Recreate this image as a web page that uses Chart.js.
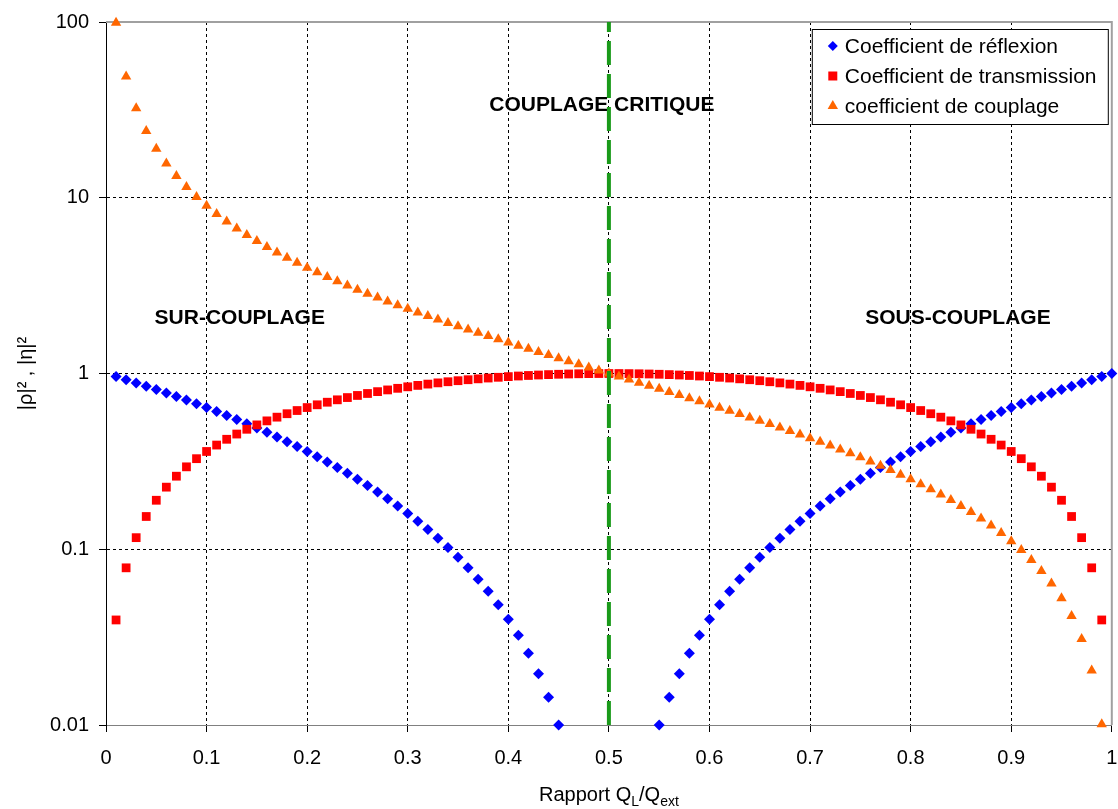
<!DOCTYPE html>
<html>
<head>
<meta charset="utf-8">
<script src="https://cdn.jsdelivr.net/npm/chart.js@4/dist/chart.umd.min.js"></script>
<style>
  html, body { margin: 0; padding: 0; background: #fff; }
</style>
</head>
<body>
<canvas id="chart" width="1118" height="809"></canvas>
<script>
// x : rapport QL/Qext
const xValues = [
  0.01, 0.02, 0.03, 0.04, 0.05, 0.06, 0.07, 0.08, 0.09, 0.10,
  0.11, 0.12, 0.13, 0.14, 0.15, 0.16, 0.17, 0.18, 0.19, 0.20,
  0.21, 0.22, 0.23, 0.24, 0.25, 0.26, 0.27, 0.28, 0.29, 0.30,
  0.31, 0.32, 0.33, 0.34, 0.35, 0.36, 0.37, 0.38, 0.39, 0.40,
  0.41, 0.42, 0.43, 0.44, 0.45, 0.46, 0.47, 0.48, 0.49, 0.50,
  0.51, 0.52, 0.53, 0.54, 0.55, 0.56, 0.57, 0.58, 0.59, 0.60,
  0.61, 0.62, 0.63, 0.64, 0.65, 0.66, 0.67, 0.68, 0.69, 0.70,
  0.71, 0.72, 0.73, 0.74, 0.75, 0.76, 0.77, 0.78, 0.79, 0.80,
  0.81, 0.82, 0.83, 0.84, 0.85, 0.86, 0.87, 0.88, 0.89, 0.90,
  0.91, 0.92, 0.93, 0.94, 0.95, 0.96, 0.97, 0.98, 0.99, 1.00
];

// |rho|^2 (points under 0.01 are not shown)
const reflexion = [
  0.9604, 0.9216, 0.8836, 0.8464, 0.81, 0.7744, 0.7396, 0.7056, 0.6724, 0.64,
  0.6084, 0.5776, 0.5476, 0.5184, 0.49, 0.4624, 0.4356, 0.4096, 0.3844, 0.36,
  0.3364, 0.3136, 0.2916, 0.2704, 0.25, 0.2304, 0.2116, 0.1936, 0.1764, 0.16,
  0.1444, 0.1296, 0.1156, 0.1024, 0.09, 0.0784, 0.0676, 0.0576, 0.0484, 0.04,
  0.0324, 0.0256, 0.0196, 0.0144, 0.01, null, null, null, null, null,
  null, null, null, null, 0.01, 0.0144, 0.0196, 0.0256, 0.0324, 0.04,
  0.0484, 0.0576, 0.0676, 0.0784, 0.09, 0.1024, 0.1156, 0.1296, 0.1444, 0.16,
  0.1764, 0.1936, 0.2116, 0.2304, 0.25, 0.2704, 0.2916, 0.3136, 0.3364, 0.36,
  0.3844, 0.4096, 0.4356, 0.4624, 0.49, 0.5184, 0.5476, 0.5776, 0.6084, 0.64,
  0.6724, 0.7056, 0.7396, 0.7744, 0.81, 0.8464, 0.8836, 0.9216, 0.9604, 1
];

// |eta|^2
const transmission = [
  0.0396, 0.0784, 0.1164, 0.1536, 0.19, 0.2256, 0.2604, 0.2944, 0.3276, 0.36,
  0.3916, 0.4224, 0.4524, 0.4816, 0.51, 0.5376, 0.5644, 0.5904, 0.6156, 0.64,
  0.6636, 0.6864, 0.7084, 0.7296, 0.75, 0.7696, 0.7884, 0.8064, 0.8236, 0.84,
  0.8556, 0.8704, 0.8844, 0.8976, 0.91, 0.9216, 0.9324, 0.9424, 0.9516, 0.96,
  0.9676, 0.9744, 0.9804, 0.9856, 0.99, 0.9936, 0.9964, 0.9984, 0.9996, 1,
  0.9996, 0.9984, 0.9964, 0.9936, 0.99, 0.9856, 0.9804, 0.9744, 0.9676, 0.96,
  0.9516, 0.9424, 0.9324, 0.9216, 0.91, 0.8976, 0.8844, 0.8704, 0.8556, 0.84,
  0.8236, 0.8064, 0.7884, 0.7696, 0.75, 0.7296, 0.7084, 0.6864, 0.6636, 0.64,
  0.6156, 0.5904, 0.5644, 0.5376, 0.51, 0.4816, 0.4524, 0.4224, 0.3916, 0.36,
  0.3276, 0.2944, 0.2604, 0.2256, 0.19, 0.1536, 0.1164, 0.0784, 0.0396, null
];

// coefficient de couplage
const couplage = [
  99, 49, 32.33, 24, 19, 15.67, 13.29, 11.5, 10.11, 9,
  8.091, 7.333, 6.692, 6.143, 5.667, 5.25, 4.882, 4.556, 4.263, 4,
  3.762, 3.545, 3.348, 3.167, 3, 2.846, 2.704, 2.571, 2.448, 2.333,
  2.226, 2.125, 2.03, 1.941, 1.857, 1.778, 1.703, 1.632, 1.564, 1.5,
  1.439, 1.381, 1.326, 1.273, 1.222, 1.174, 1.128, 1.083, 1.041, 1,
  0.9608, 0.9231, 0.8868, 0.8519, 0.8182, 0.7857, 0.7544, 0.7241, 0.6949, 0.6667,
  0.6393, 0.6129, 0.5873, 0.5625, 0.5385, 0.5152, 0.4925, 0.4706, 0.4493, 0.4286,
  0.4085, 0.3889, 0.3699, 0.3514, 0.3333, 0.3158, 0.2987, 0.2821, 0.2658, 0.25,
  0.2346, 0.2195, 0.2048, 0.1905, 0.1765, 0.1628, 0.1494, 0.1364, 0.1236, 0.1111,
  0.0989, 0.087, 0.0753, 0.0638, 0.0526, 0.0417, 0.0309, 0.0204, 0.0101, null
];

// couplage critique (vertical line)
const critX = [0.5, 0.5];
const critY = [0.01, 100];

const xTicks = [0, 0.1, 0.2, 0.3, 0.4, 0.5, 0.6, 0.7, 0.8, 0.9, 1];
const yTicks = [0.01, 0.1, 1, 10, 100];

const seriesLabels = ["Coefficient de réflexion", "Coefficient de transmission", "coefficient de couplage"];

const zoneLabels = [
  { text: "COUPLAGE CRITIQUE", x: 0.493, y: 33.5 },
  { text: "SUR-COUPLAGE", x: 0.133, y: 2.06 },
  { text: "SOUS-COUPLAGE", x: 0.847, y: 2.06 }
];

const FONT = "'Liberation Sans', Arial, sans-serif";

function toPoints(ys) {
  return xValues.map((x, i) => ({ x: x, y: ys[i] }));
}

// zone labels, drawn under the grid
const zonePlugin = {
  id: "zones",
  beforeDraw(chart) {
    const ctx = chart.ctx;
    const xs = chart.scales.x, ys = chart.scales.y;
    ctx.save();
    ctx.font = "bold 21px " + FONT;
    ctx.fillStyle = "#000";
    ctx.textAlign = "center";
    ctx.textBaseline = "middle";
    zoneLabels.forEach(z => {
      ctx.fillText(z.text, xs.getPixelForValue(z.x), ys.getPixelForValue(z.y));
    });
    ctx.restore();
  }
};

// grey frame on top and right of the plot
const framePlugin = {
  id: "frame",
  beforeDatasetsDraw(chart) {
    const { ctx, chartArea: a } = chart;
    ctx.save();
    ctx.strokeStyle = "#a0a0a0";
    ctx.lineWidth = 2;
    ctx.beginPath();
    ctx.moveTo(a.left, a.top);
    ctx.lineTo(a.right, a.top);
    ctx.lineTo(a.right, a.bottom);
    ctx.stroke();
    ctx.restore();
  }
};

// boxed legend inside the plot, top right
const legendPlugin = {
  id: "boxLegend",
  afterDatasetsDraw(chart) {
    const { ctx, chartArea: a } = chart;
    const w = 296, h = 95;
    const left = a.right - 4 - w, top = a.top + 7;
    ctx.save();
    ctx.fillStyle = "#fff";
    ctx.fillRect(left, top, w, h);
    ctx.strokeStyle = "#000";
    ctx.lineWidth = 1;
    ctx.strokeRect(left + 0.5, top + 0.5, w, h);
    ctx.font = "21px " + FONT;
    ctx.textBaseline = "middle";
    ctx.textAlign = "left";
    seriesLabels.forEach((label, i) => {
      const ds = chart.data.datasets[i];
      const cy = top + 17 + i * 30;
      const cx = left + 21;
      ctx.fillStyle = ds.backgroundColor;
      ctx.beginPath();
      if (ds.pointStyle === "rectRot") {
        ctx.moveTo(cx, cy - 5); ctx.lineTo(cx + 5, cy); ctx.lineTo(cx, cy + 5); ctx.lineTo(cx - 5, cy);
      } else if (ds.pointStyle === "rect") {
        ctx.rect(cx - 4.5, cy - 4.5, 9, 9);
      } else {
        ctx.moveTo(cx, cy - 6); ctx.lineTo(cx + 5.2, cy + 3); ctx.lineTo(cx - 5.2, cy + 3);
      }
      ctx.closePath();
      ctx.fill();
      ctx.fillStyle = "#000";
      ctx.fillText(label, left + 33, cy + 1);
    });
    ctx.restore();
  }
};

// x axis title with subscripts
const xTitlePlugin = {
  id: "xTitle",
  afterDraw(chart) {
    const { ctx, chartArea: a } = chart;
    const parts = [
      { t: "Rapport Q", sub: false },
      { t: "L", sub: true },
      { t: "/Q", sub: false },
      { t: "ext", sub: true }
    ];
    const big = "20px " + FONT, small = "14px " + FONT;
    ctx.save();
    ctx.fillStyle = "#000";
    ctx.textBaseline = "alphabetic";
    ctx.textAlign = "left";
    let total = 0;
    parts.forEach(p => { ctx.font = p.sub ? small : big; p.w = ctx.measureText(p.t).width; total += p.w; });
    let x = (a.left + a.right) / 2 - total / 2;
    const base = 801;
    parts.forEach(p => {
      ctx.font = p.sub ? small : big;
      ctx.fillText(p.t, x, p.sub ? base + 5 : base);
      x += p.w;
    });
    ctx.restore();
  }
};

new Chart(document.getElementById("chart"), {
  type: "scatter",
  data: {
    datasets: [
      {
        label: seriesLabels[0],
        data: toPoints(reflexion),
        pointStyle: "rectRot",
        pointRadius: 5.5,
        pointBorderWidth: 0,
        backgroundColor: "#0000ff",
        borderColor: "#0000ff",
        clip: false,
        order: 3
      },
      {
        label: seriesLabels[1],
        data: toPoints(transmission),
        pointStyle: "rect",
        pointRadius: 6.2,
        pointBorderWidth: 0,
        backgroundColor: "#ff0000",
        borderColor: "#ff0000",
        clip: false,
        order: 2
      },
      {
        label: seriesLabels[2],
        data: toPoints(couplage),
        pointStyle: "triangle",
        pointRadius: 6,
        pointBorderWidth: 0,
        backgroundColor: "#ff6600",
        borderColor: "#ff6600",
        clip: false,
        order: 1
      },
      {
        label: "couplage critique",
        type: "line",
        data: critX.map((x, i) => ({ x: x, y: critY[i] })),
        showLine: true,
        borderColor: "#1a9a1a",
        borderWidth: 4,
        borderDash: [24, 9],
        pointRadius: 0,
        fill: false,
        order: 0
      }
    ]
  },
  options: {
    responsive: false,
    animation: false,
    layout: { padding: { left: 0, right: 2, top: 18, bottom: 0 } },
    plugins: {
      legend: { display: false },
      tooltip: { enabled: false }
    },
    scales: {
      x: {
        type: "linear",
        min: 0,
        max: 1,
        afterBuildTicks: s => { s.ticks = xTicks.map(v => ({ value: v })); },
        afterFit: s => { s.height = 84; s.paddingRight = 0; },
        ticks: {
          autoSkip: false,
          maxRotation: 0,
          padding: 14,
          color: "#000",
          font: { family: FONT, size: 20 },
          callback: v => String(Math.round(v * 10) / 10)
        },
        grid: {
          color: "#000",
          lineWidth: 1,
          tickLength: 7,
          tickColor: "#000",
          tickBorderDash: []
        },
        border: { display: true, color: "#808080", width: 1, dash: [3, 3] }
      },
      y: {
        type: "logarithmic",
        min: 0.01,
        max: 100,
        afterBuildTicks: s => { s.ticks = yTicks.map(v => ({ value: v })); },
        afterFit: s => { s.width = 106; },
        ticks: {
          autoSkip: false,
          padding: 10,
          color: "#000",
          font: { family: FONT, size: 20 },
          callback: v => String(v)
        },
        grid: {
          color: "#000",
          lineWidth: 1,
          tickLength: 7,
          tickColor: "#000",
          tickBorderDash: []
        },
        border: { display: true, color: "#000", width: 1, dash: [3, 3] },
        title: {
          display: true,
          text: "|ρ|² , |η|²",
          color: "#000",
          font: { family: FONT, size: 20 },
          padding: { top: 14, bottom: 0 }
        }
      }
    }
  },
  plugins: [zonePlugin, framePlugin, legendPlugin, xTitlePlugin]
});
</script>
</body>
</html>
